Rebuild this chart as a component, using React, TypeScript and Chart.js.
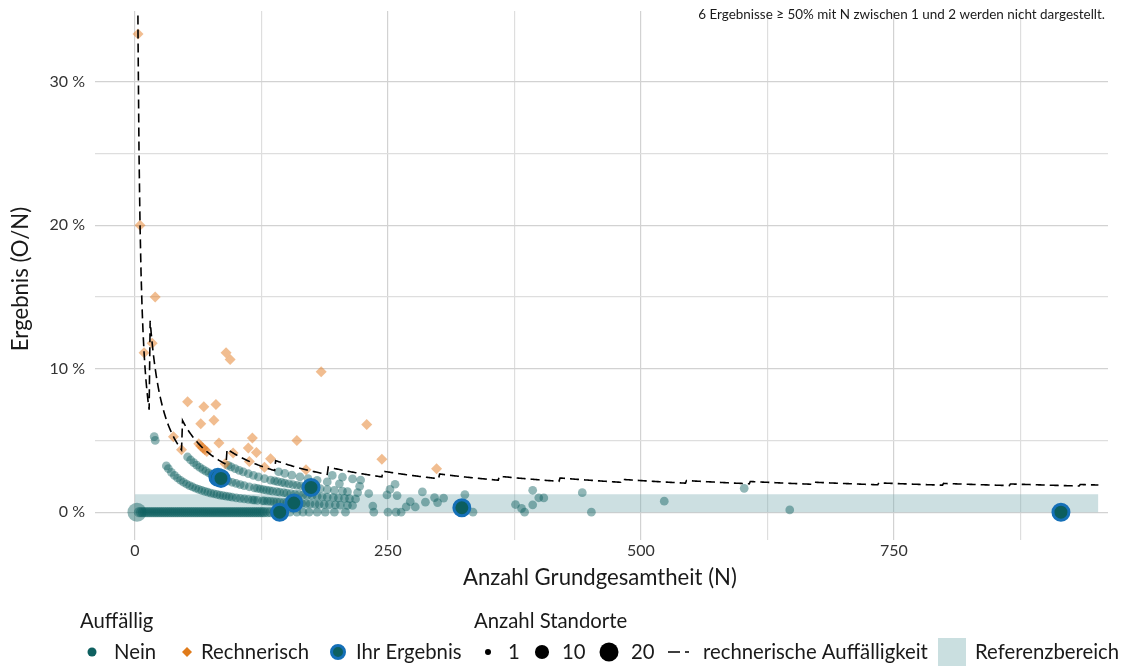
import React, { useEffect, useRef } from "react";
import { Chart, registerables } from "chart.js";

Chart.register(...registerables);

const FONT = "Lato, 'Noto Sans', sans-serif";

// Axes
const X_TICKS = [0, 125, 250, 375, 500, 625, 750, 875];
const X_LABELS = [0, 250, 500, 750];
const Y_TICKS = [0, 5, 10, 15, 20, 25, 30];
const Y_LABELS = [0, 10, 20, 30];
const X_MIN = -39.5;
const X_MAX = 961.5;
const Y_MIN = -1.94;
const Y_MAX = 34.93;

// Referenzbereich (percent) and N range of the band
const REF_LOW = 0;
const REF_HIGH = 1.25;
const REF_N_MAX = 952;

// Rechnerische Auffälligkeit: N at which the critical count O rises by one (O = 1, 2, 3, ...)
const THRESH_START_N = [1, 15, 47, 91, 139, 191, 245, 301, 360, 420, 481, 545, 608, 670, 735, 799, 865, 934];
const THRESH_N_MAX = 952;

// Auffällig: Nein  (N values, grouped by observed count O)
const neinBigN = [2];
const neinBigO = [0];
const neinBigSites = [14];
const neinO0PairN = [4, 6, 8, 10, 12, 14, 16, 18, 20, 22, 24, 26, 28, 30, 32, 34, 36, 38, 40, 42, 44, 46, 48, 50, 52, 54, 56, 58, 60, 62, 64, 66, 68, 70, 72, 74, 76, 78, 80, 82, 84, 86, 88, 90, 92, 94, 96, 98, 100, 102, 104, 106, 108, 110, 112, 114, 116, 118, 120, 122, 124, 126, 128, 131, 134, 138];
const neinO0N = [147, 153, 160, 166, 172, 180, 188, 197, 208, 236, 250, 258, 263, 334, 385, 451];
const neinO1N = [19, 20, 31, 33, 36, 39, 42, 45, 48, 51, 54, 57, 60, 63, 66, 69, 72, 75, 78, 81, 84, 87, 90, 93, 96, 100, 104, 108, 112, 116, 118, 121, 126, 128, 131, 134, 137, 140, 143, 147, 150, 154, 157, 161, 165, 169, 173, 178, 182, 187, 192, 198, 203, 210, 215, 235, 268, 277, 382, 647];
const neinO2N = [52, 55, 58, 61, 64, 67, 70, 73, 76, 79, 92, 96, 100, 104, 108, 113, 118, 121, 124, 127, 130, 133, 136, 140, 143, 147, 150, 154, 158, 162, 166, 170, 175, 180, 185, 190, 196, 201, 207, 212, 218, 272, 287, 299, 376, 393];
const neinO3N = [92, 95, 99, 103, 107, 112, 117, 122, 128, 134, 138, 141, 145, 148, 152, 156, 160, 164, 168, 173, 178, 183, 190, 197, 205, 210, 220, 231, 249, 259, 296, 305];
const neinO4N = [142, 148, 155, 163, 171, 180, 190, 202, 222, 252, 284, 326, 399, 404];
const neinO5N = [195, 205, 215, 223, 257];
const neinO6N = [393, 442];
const neinOtherN = [523, 602];
const neinOtherO = [4, 10];

// Auffällig: Rechnerisch
const rechN = [3, 5, 9, 17, 20, 38, 46, 52, 63, 65, 65, 67, 68, 69, 71, 78, 80, 83, 89, 90, 94, 97, 112, 113, 116, 120, 128, 134, 160, 169, 184, 229, 244, 298];
const rechO = [1, 1, 1, 2, 3, 2, 2, 4, 3, 3, 4, 3, 5, 3, 3, 5, 6, 4, 3, 10, 10, 4, 5, 4, 6, 5, 4, 5, 8, 5, 18, 14, 9, 9];

// Ihr Ergebnis
const ihrN = [82, 85, 143, 157, 174, 323, 915];
const ihrO = [2, 2, 0, 1, 3, 1, 0];

const NOTE = "6 Ergebnisse \u2265 50% mit N zwischen 1 und 2 werden nicht dargestellt.";

type Pt = { x: number; y: number; s: number };

function pts(ns: number[], os: number[] | number, sites: number[] | number = 1): Pt[] {
  return ns.map((n, i) => {
    const o = Array.isArray(os) ? os[i] : os;
    const s = Array.isArray(sites) ? sites[i] : sites;
    return { x: n, y: (o / n) * 100, s };
  });
}

const radiusFor = (s: number) => 2.5 + 1.87 * Math.sqrt(s);
const legendRadius = (s: number) => 1.13 + 1.87 * Math.sqrt(s);

function fitSize(ctx: CanvasRenderingContext2D, text: string, width: number) {
  ctx.font = `100px ${FONT}`;
  const w = ctx.measureText(text).width;
  return (100 * width) / w;
}

const overlayPlugin = {
  id: "overlayText",
  afterDraw(chart: any) {
    const ctx: CanvasRenderingContext2D = chart.ctx;
    ctx.save();
    const ink = "#1a1a1a";

    // Note top right
    const noteSize = fitSize(ctx, NOTE, 407);
    ctx.font = `${noteSize}px ${FONT}`;
    ctx.fillStyle = ink;
    ctx.textAlign = "right";
    ctx.textBaseline = "middle";
    ctx.fillText(NOTE, 1105, 15);

    // Axis titles
    const tSize = fitSize(ctx, "Anzahl Grundgesamtheit (N)", 274);
    ctx.font = `${tSize}px ${FONT}`;
    ctx.textAlign = "center";
    ctx.fillText("Anzahl Grundgesamtheit (N)", 600, 578);
    ctx.save();
    ctx.translate(21, 279);
    ctx.rotate(-Math.PI / 2);
    ctx.fillText("Ergebnis (O/N)", 0, 0);
    ctx.restore();

    // Legend
    const lSize = fitSize(ctx, "rechnerische Auffälligkeit", 225);
    ctx.font = `${lSize}px ${FONT}`;
    ctx.textAlign = "left";
    ctx.fillStyle = ink;
    const ty = 621;
    const ry = 652;
    ctx.fillText("Auffällig", 80, ty);
    ctx.fillText("Anzahl Standorte", 474, ty);

    const circle = (x: number, r: number, fill: string, stroke?: string, lw?: number) => {
      ctx.beginPath();
      ctx.arc(x, ry, r, 0, Math.PI * 2);
      ctx.fillStyle = fill;
      ctx.fill();
      if (stroke) {
        ctx.lineWidth = lw || 1;
        ctx.strokeStyle = stroke;
        ctx.stroke();
      }
    };
    circle(92, 4.5, "#0e6060");
    ctx.fillStyle = ink;
    ctx.fillText("Nein", 114, ry);

    ctx.beginPath();
    ctx.moveTo(187, ry - 5);
    ctx.lineTo(192, ry);
    ctx.lineTo(187, ry + 5);
    ctx.lineTo(182, ry);
    ctx.closePath();
    ctx.fillStyle = "#e07b1a";
    ctx.fill();
    ctx.fillStyle = ink;
    ctx.fillText("Rechnerisch", 201, ry);

    circle(338, 6.5, "#0e6060", "#1570b8", 3);
    ctx.fillStyle = ink;
    ctx.fillText("Ihr Ergebnis", 356, ry);

    circle(488, legendRadius(1), "#000");
    ctx.fillStyle = ink;
    ctx.fillText("1", 508, ry);
    circle(542, legendRadius(10), "#000");
    ctx.fillStyle = ink;
    ctx.fillText("10", 562, ry);
    circle(609, legendRadius(20), "#000");
    ctx.fillStyle = ink;
    ctx.fillText("20", 631, ry);

    ctx.strokeStyle = "#000";
    ctx.lineWidth = 1.5;
    ctx.beginPath();
    ctx.moveTo(668, ry);
    ctx.lineTo(680, ry);
    ctx.moveTo(685, ry);
    ctx.lineTo(689, ry);
    ctx.stroke();
    ctx.fillStyle = ink;
    ctx.fillText("rechnerische Auffälligkeit", 703, ry);

    ctx.fillStyle = "#cadfe0";
    ctx.fillRect(938, ry - 14, 28, 28);
    ctx.fillStyle = ink;
    ctx.fillText("Referenzbereich", 975, ry);

    ctx.restore();
  },
};

export default function App() {
  const ref = useRef<HTMLCanvasElement>(null);

  useEffect(() => {
    document.body.style.margin = "0";
    const canvas = ref.current;
    if (!canvas) return;

    const neinPts: Pt[] = [
      ...pts(neinBigN, neinBigO, neinBigSites),
      ...pts(neinO0PairN, 0, 2),
      ...pts(neinO0N, 0),
      ...pts(neinO1N, 1),
      ...pts(neinO2N, 2),
      ...pts(neinO3N, 3),
      ...pts(neinO4N, 4),
      ...pts(neinO5N, 5),
      ...pts(neinO6N, 6),
      ...pts(neinOtherN, neinOtherO),
    ];
    const rechPts = pts(rechN, rechO);
    const ihrPts = pts(ihrN, ihrO);

    const threshPts: { x: number; y: number }[] = [];
    for (let n = 1; n <= THRESH_N_MAX; n++) {
      const k = THRESH_START_N.filter((s) => s <= n).length;
      threshPts.push({ x: n, y: (k / n) * 100 });
    }

    const majorX = (v: number) => X_LABELS.includes(v);
    const majorY = (v: number) => Y_LABELS.includes(v);

    const chart = new Chart(canvas, {
      type: "scatter",
      data: {
        datasets: [
          {
            type: "line",
            label: "Referenzbereich",
            data: [
              { x: 0, y: REF_HIGH },
              { x: REF_N_MAX, y: REF_HIGH },
            ],
            fill: { value: REF_LOW },
            backgroundColor: "rgba(120,170,175,0.38)",
            borderWidth: 0,
            pointRadius: 0,
            order: 10,
          } as any,
          {
            label: "Nein",
            data: neinPts,
            backgroundColor: "rgba(14,96,96,0.45)",
            borderWidth: 0,
            pointRadius: (c: any) => radiusFor(c.raw ? c.raw.s : 1),
            order: 5,
          } as any,
          {
            label: "Rechnerisch",
            data: rechPts,
            pointStyle: "rectRot",
            backgroundColor: "rgba(228,124,34,0.5)",
            borderWidth: 0,
            pointRadius: 5.5,
            order: 4,
          } as any,
          {
            type: "line",
            label: "rechnerische Auffälligkeit",
            data: threshPts,
            borderColor: "#000",
            borderWidth: 1.6,
            borderDash: [9, 5],
            pointRadius: 0,
            fill: false,
            tension: 0,
            order: 2,
          } as any,
          {
            label: "Ihr Ergebnis",
            data: ihrPts,
            backgroundColor: "#0c5e5e",
            borderColor: "#1570b8",
            borderWidth: 3,
            pointRadius: 8,
            order: 1,
          } as any,
        ],
      },
      options: {
        responsive: false,
        animation: false,
        devicePixelRatio: 1,
        events: [],
        layout: { padding: { top: 9, right: 20, left: 0, bottom: 0 } },
        plugins: {
          legend: { display: false },
          tooltip: { enabled: false },
          title: { display: false },
        },
        scales: {
          x: {
            type: "linear",
            min: X_MIN,
            max: X_MAX,
            afterBuildTicks: (scale: any) => {
              scale.ticks = X_TICKS.map((v) => ({ value: v }));
            },
            afterFit: (scale: any) => {
              scale.height = 129;
              scale.paddingLeft = 0;
              scale.paddingRight = 0;
            },
            border: { display: false },
            grid: {
              drawTicks: false,
              color: (c: any) => (c.tick && majorX(c.tick.value) ? "#d2d2d2" : "#dedede"),
              lineWidth: 1.2,
            },
            ticks: {
              autoSkip: false,
              maxRotation: 0,
              padding: 1,
              color: "#333",
              font: { family: FONT, size: 16 },
              callback: (v: any) => (majorX(Number(v)) ? String(v) : ""),
            },
          },
          y: {
            type: "linear",
            min: Y_MIN,
            max: Y_MAX,
            afterBuildTicks: (scale: any) => {
              scale.ticks = Y_TICKS.map((v) => ({ value: v }));
            },
            afterFit: (scale: any) => {
              scale.width = 95;
              scale.paddingTop = 0;
              scale.paddingBottom = 0;
            },
            border: { display: false },
            grid: {
              drawTicks: false,
              color: (c: any) => (c.tick && majorY(c.tick.value) ? "#d2d2d2" : "#dedede"),
              lineWidth: 1.2,
            },
            ticks: {
              autoSkip: false,
              padding: 10,
              color: "#333",
              font: { family: FONT, size: 16 },
              callback: (v: any) => (majorY(Number(v)) ? `${v} %` : ""),
            },
          },
        },
      } as any,
      plugins: [overlayPlugin],
    });

    return () => chart.destroy();
  }, []);

  return (
    <div style={{ width: 1128, height: 669, position: "relative", background: "#fff" }}>
      <canvas ref={ref} width={1128} height={669} style={{ display: "block" }} />
    </div>
  );
}
